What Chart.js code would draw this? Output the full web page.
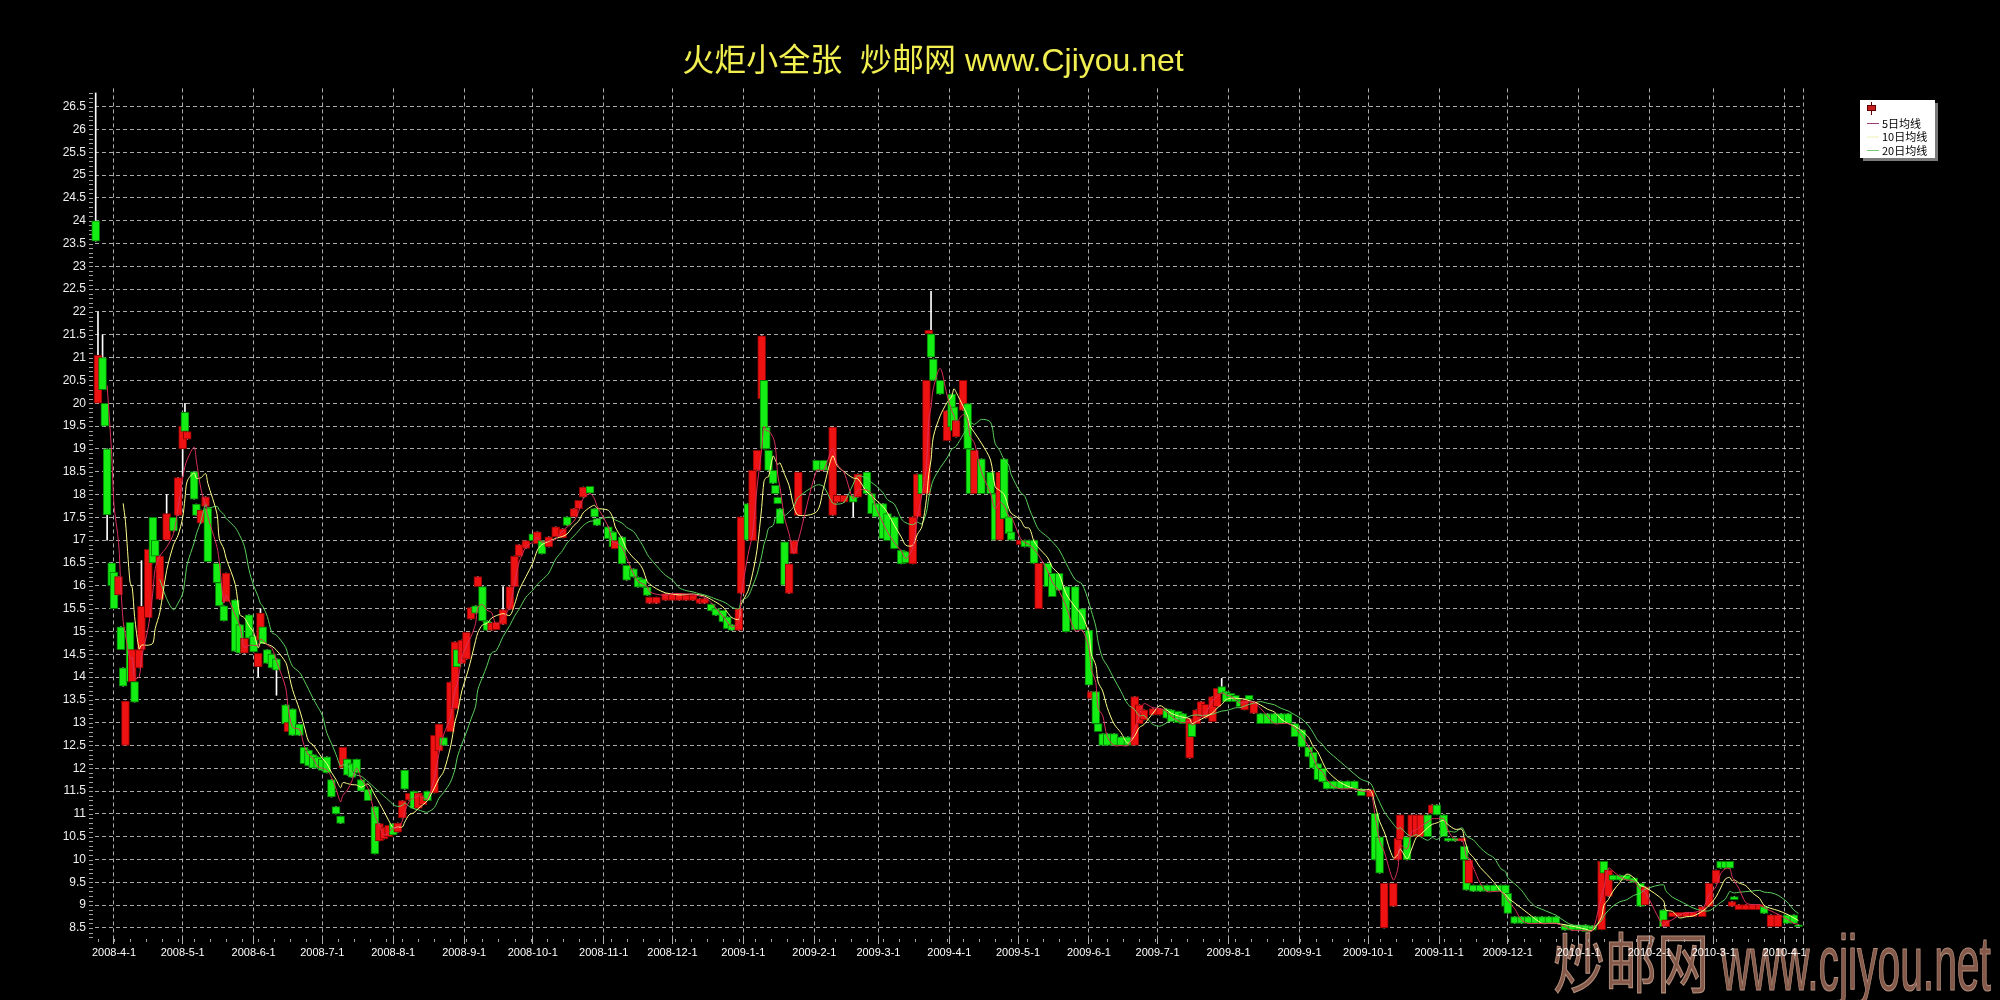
<!DOCTYPE html>
<html>
<head>
<meta charset="utf-8">
<title>火炬小全张</title>
<style>
  html, body { margin: 0; padding: 0; background: #000; }
  #wrap { width: 2000px; height: 1000px; }
</style>
<script src="https://cdn.jsdelivr.net/npm/chart.js@4.4.1/dist/chart.umd.min.js"></script>
</head>
<body>
<div id="wrap"><canvas id="myChart" width="2000" height="1000"></canvas></div>
<script>
// month labels on the time axis
const monthTicks = ['2008-4-1','2008-5-1','2008-6-1','2008-7-1','2008-8-1','2008-9-1','2008-10-1','2008-11-1','2008-12-1',
  '2009-1-1','2009-2-1','2009-3-1','2009-4-1','2009-5-1','2009-6-1','2009-7-1','2009-8-1','2009-9-1','2009-10-1','2009-11-1','2009-12-1',
  '2010-1-1','2010-2-1','2010-3-1','2010-4-1'];
const yTicks = [8.5,9,9.5,10,10.5,11,11.5,12,12.5,13,13.5,14,14.5,15,15.5,16,16.5,17,17.5,18,18.5,19,19.5,20,20.5,21,21.5,22,22.5,23,23.5,24,24.5,25,25.5,26,26.5];

// candles, one row per month
const dates = [
  '2008-3-24','2008-3-25','2008-3-27','2008-3-28','2008-3-29','2008-3-31',
  '2008-4-1','2008-4-3','2008-4-4','2008-4-5','2008-4-6','2008-4-8','2008-4-9','2008-4-10','2008-4-12','2008-4-13','2008-4-16','2008-4-18','2008-4-19','2008-4-21','2008-4-24','2008-4-27','2008-4-29',
  '2008-5-1','2008-5-2','2008-5-3','2008-5-6','2008-5-7','2008-5-9','2008-5-11','2008-5-12','2008-5-16','2008-5-17','2008-5-19','2008-5-20','2008-5-24','2008-5-26','2008-5-28','2008-5-30',
  '2008-6-1','2008-6-3','2008-6-4','2008-6-5','2008-6-7','2008-6-9','2008-6-11','2008-6-15','2008-6-16','2008-6-18','2008-6-21','2008-6-23','2008-6-25','2008-6-27','2008-6-29',
  '2008-7-1','2008-7-3','2008-7-5','2008-7-7','2008-7-9','2008-7-10','2008-7-12','2008-7-14','2008-7-16','2008-7-18','2008-7-21','2008-7-24','2008-7-26','2008-7-28','2008-7-30',
  '2008-8-1','2008-8-3','2008-8-5','2008-8-6','2008-8-8','2008-8-10','2008-8-12','2008-8-14','2008-8-16','2008-8-19','2008-8-21','2008-8-23','2008-8-26','2008-8-28','2008-8-29','2008-8-31',
  '2008-9-2','2008-9-4','2008-9-6','2008-9-7','2008-9-9','2008-9-11','2008-9-13','2008-9-15','2008-9-18','2008-9-21','2008-9-23','2008-9-25','2008-9-28',
  '2008-10-1','2008-10-3','2008-10-5','2008-10-8','2008-10-11','2008-10-14','2008-10-16','2008-10-19','2008-10-21','2008-10-23','2008-10-26','2008-10-28','2008-10-29',
  '2008-11-3','2008-11-5','2008-11-6','2008-11-9','2008-11-11','2008-11-14','2008-11-16','2008-11-18','2008-11-20','2008-11-21','2008-11-24','2008-11-28',
  '2008-12-1','2008-12-4','2008-12-7','2008-12-10','2008-12-13','2008-12-15','2008-12-18','2008-12-20','2008-12-23','2008-12-25','2008-12-27','2008-12-30','2008-12-31',
  '2009-1-3','2009-1-5','2009-1-7','2009-1-9','2009-1-10','2009-1-11','2009-1-12','2009-1-14','2009-1-15','2009-1-16','2009-1-17','2009-1-19','2009-1-21','2009-1-23','2009-1-25',
  '2009-2-2','2009-2-5','2009-2-9','2009-2-11','2009-2-14','2009-2-18','2009-2-20','2009-2-24','2009-2-26','2009-2-28',
  '2009-3-3','2009-3-5','2009-3-8','2009-3-11','2009-3-13','2009-3-16','2009-3-18','2009-3-20','2009-3-22','2009-3-23','2009-3-24','2009-3-25','2009-3-28','2009-3-31',
  '2009-4-2','2009-4-3','2009-4-4','2009-4-7','2009-4-9','2009-4-10','2009-4-12','2009-4-15','2009-4-19','2009-4-21','2009-4-23','2009-4-25','2009-4-27','2009-4-28',
  '2009-5-2','2009-5-4','2009-5-6','2009-5-8','2009-5-10','2009-5-14','2009-5-16','2009-5-19','2009-5-22','2009-5-26','2009-5-29',
  '2009-6-1','2009-6-2','2009-6-4','2009-6-5','2009-6-7','2009-6-9','2009-6-12','2009-6-15','2009-6-18','2009-6-21','2009-6-23','2009-6-25','2009-6-29',
  '2009-7-2','2009-7-5','2009-7-7','2009-7-10','2009-7-12','2009-7-15','2009-7-16','2009-7-18','2009-7-20','2009-7-22','2009-7-25','2009-7-27','2009-7-29','2009-7-31',
  '2009-8-2','2009-8-4','2009-8-6','2009-8-8','2009-8-10','2009-8-12','2009-8-15','2009-8-18','2009-8-21','2009-8-24','2009-8-27','2009-8-30',
  '2009-9-2','2009-9-5','2009-9-7','2009-9-9','2009-9-11','2009-9-13','2009-9-16','2009-9-19','2009-9-22','2009-9-25','2009-9-28',
  '2009-10-2','2009-10-4','2009-10-6','2009-10-8','2009-10-12','2009-10-14','2009-10-15','2009-10-18','2009-10-20','2009-10-22','2009-10-24','2009-10-27','2009-10-29','2009-10-31',
  '2009-11-3','2009-11-5','2009-11-8','2009-11-11','2009-11-12','2009-11-13','2009-11-14','2009-11-16','2009-11-19','2009-11-22','2009-11-25','2009-11-28','2009-11-30',
  '2009-12-1','2009-12-4','2009-12-7','2009-12-10','2009-12-13','2009-12-16','2009-12-19','2009-12-22','2009-12-26','2009-12-29',
  '2010-1-1','2010-1-4','2010-1-7','2010-1-11','2010-1-12','2010-1-14','2010-1-16','2010-1-19','2010-1-22','2010-1-25','2010-1-28','2010-1-30',
  '2010-2-7','2010-2-8','2010-2-11','2010-2-14','2010-2-17','2010-2-20','2010-2-24','2010-2-27',
  '2010-3-2','2010-3-4','2010-3-6','2010-3-8','2010-3-9','2010-3-10','2010-3-12','2010-3-15','2010-3-18','2010-3-21','2010-3-23','2010-3-26','2010-3-29',
  '2010-4-2','2010-4-5','2010-4-7'
];
const opens = [
  24.0,20.0,21.0,20.0,19.0,16.5,
  16.3,15.8,15.1,14.2,12.5,15.2,13.9,13.9,14.2,14.6,15.3,17.5,17.0,15.7,17.0,17.5,17.54,
  19.0,19.8,19.21,18.5,17.79,17.37,17.74,17.7,16.49,16.07,15.56,15.65,15.69,15.15,14.52,15.36,
  14.9,14.22,14.81,15.1,14.6,14.5,14.4,13.39,12.8,13.3,12.97,12.46,12.4,12.3,12.25,
  12.2,12.25,11.75,11.16,10.95,12.0,12.2,12.1,12.2,11.75,11.54,11.16,10.41,10.45,10.5,
  10.79,10.6,10.91,11.96,11.3,11.5,11.12,11.2,11.5,11.46,12.38,12.67,12.8,13.3,14.6,14.3,
  14.39,15.27,15.56,15.98,15.98,15.23,15.02,15.04,15.15,15.48,15.98,16.65,16.82,
  17.14,16.92,16.99,16.85,17.07,17.05,17.51,17.51,17.69,17.94,18.18,17.69,17.47,
  17.29,17.18,16.81,17.07,16.45,16.37,16.19,16.15,15.97,15.61,15.61,15.68,
  15.68,15.68,15.68,15.68,15.61,15.61,15.6,15.5,15.46,15.32,15.15,15.02,15.83,
  17.8,16.99,18.53,20.1,20.5,19.48,18.97,18.53,18.2,17.94,17.69,16.96,15.83,16.7,17.54,
  18.75,18.75,17.54,17.83,17.83,17.98,17.94,18.49,18.02,17.8,
  17.8,17.58,17.51,16.78,16.75,16.48,17.51,18.45,18.02,21.52,21.52,20.97,20.5,19.18,
  20.2,19.92,19.26,19.84,19.99,19.0,18.02,18.78,18.49,18.02,17.0,18.78,17.51,17.18,
  16.9,17.0,17.0,17.0,15.5,16.49,16.27,16.27,15.98,15.98,15.5,
  15.03,13.53,13.68,12.98,12.76,12.76,12.76,12.69,12.69,12.5,12.98,13.06,13.17,
  13.17,13.3,13.28,13.25,13.2,12.22,12.98,12.98,13.13,13.1,13.02,13.35,13.79,13.68,
  13.64,13.6,13.5,13.28,13.6,13.2,13.2,13.2,13.2,13.2,13.2,12.98,
  12.84,12.47,12.35,12.1,12.0,11.72,11.72,11.72,11.72,11.72,11.55,
  11.38,11.01,10.5,8.5,8.97,9.99,10.43,10.5,10.5,10.5,10.5,10.98,11.01,11.2,
  10.98,10.47,10.47,10.4,10.29,9.99,9.48,9.44,9.44,9.44,9.44,9.44,9.44,
  9.26,8.75,8.75,8.75,8.75,8.75,8.75,8.75,8.57,8.57,
  8.57,8.57,8.55,8.46,9.96,9.19,9.66,9.66,9.66,9.6,9.48,9.0,
  8.9,8.53,8.75,8.75,8.75,8.75,8.75,8.97,
  9.48,9.96,9.96,9.96,8.97,9.19,8.9,8.9,8.9,8.9,8.97,8.53,8.53,
  8.79,8.79,8.57
];
const closes = [
  23.55,21.05,20.3,19.5,17.55,16.0,
  15.5,16.2,14.6,13.8,13.47,13.9,14.6,13.45,14.6,15.55,16.8,16.5,16.65,16.65,17.58,17.2,18.37,
  19.5,19.38,19.38,17.9,17.54,17.66,17.95,16.53,16.07,15.56,15.23,16.28,14.56,14.52,14.85,14.85,
  14.55,14.52,15.4,14.73,14.3,14.2,14.15,12.97,13.0,12.72,12.72,12.1,12.05,12.0,12.0,
  11.95,11.9,11.37,11.0,10.79,12.46,11.85,11.8,11.9,11.5,11.29,10.12,10.79,10.7,10.75,
  10.54,10.8,11.29,11.54,11.45,11.12,11.46,11.4,11.29,12.72,12.97,12.5,13.89,14.77,14.22,14.81,
  14.98,15.52,15.4,16.2,15.23,15.02,15.19,15.2,15.48,15.98,16.65,16.9,16.99,
  16.99,17.18,16.7,17.07,17.29,17.25,17.32,17.69,17.87,18.16,18.03,17.51,17.32,
  17.03,16.85,16.99,16.48,16.12,16.19,15.97,15.97,15.79,15.75,15.75,15.83,
  15.83,15.83,15.8,15.8,15.72,15.72,15.45,15.35,15.21,15.06,15.02,15.5,17.51,
  17.0,18.53,18.97,21.48,19.0,19.0,18.53,18.24,18.02,17.8,17.36,16.01,16.48,16.99,18.49,
  18.53,18.53,19.48,17.98,17.98,17.83,18.45,18.02,17.58,17.51,
  17.03,16.99,16.81,16.48,16.5,17.51,18.45,18.02,20.5,21.6,21.01,20.5,20.2,19.84,
  19.48,19.4,19.62,20.5,19.0,18.02,18.97,18.02,18.02,17.0,18.49,17.47,17.14,17.0,
  17.0,16.85,16.85,16.49,16.49,15.98,15.76,15.9,14.99,15.03,15.03,
  13.82,13.68,12.98,12.8,12.5,12.5,12.5,12.5,12.5,13.57,13.39,13.28,13.31,
  13.31,13.1,13.02,13.0,12.98,13.09,12.69,13.28,13.46,13.4,13.57,13.75,13.64,13.46,
  13.46,13.46,13.35,13.5,13.5,13.46,12.98,12.98,12.98,12.98,12.98,12.69,
  12.47,12.25,12.0,11.75,11.7,11.55,11.55,11.55,11.55,11.55,11.4,
  11.53,9.99,9.7,9.48,9.48,10.47,10.98,9.99,10.98,10.98,10.98,10.5,11.2,10.98,
  10.5,10.4,10.4,10.47,9.99,9.33,9.99,9.3,9.3,9.3,9.3,9.3,8.97,
  8.82,8.6,8.6,8.6,8.6,8.6,8.6,8.6,8.45,8.45,
  8.45,8.42,8.45,9.96,9.7,9.77,9.55,9.55,9.55,9.5,8.97,9.4,
  8.53,8.68,8.84,8.84,8.84,8.84,8.97,9.48,
  9.77,9.81,9.81,9.81,9.08,9.12,9.01,9.01,9.01,9.01,8.82,8.79,8.79,
  8.6,8.6,8.53
];
// wicks that reach past the body
const wickHighs = [['2008-3-24',26.8],['2008-3-25',22.0],['2008-3-27',21.5],['2008-4-13',16.55],['2008-4-24',18.0],
  ['2008-5-2',20.0],['2008-6-4',15.5],['2008-9-18',15.98],['2009-3-24',22.45],['2009-7-29',13.97]];
const wickLows = [['2008-3-29',17.0],['2008-5-1',18.4],['2008-6-3',14.0],['2008-6-11',13.6],['2009-2-18',17.51]];

const RED = '#ee1212', RED_EDGE = '#8c0000';
const GREEN = '#14ee14', GREEN_EDGE = '#007a00';
const MA5_COLOR = '#d8305a', MA10_COLOR = '#ffff8c', MA20_COLOR = '#5ccf5c';

const base = Date.UTC(2008, 3, 1);
function dayOf(s) {
  const p = s.split('-').map(Number);
  return (Date.UTC(p[0], p[1] - 1, p[2]) - base) / 864e5;
}
const xs = dates.map(dayOf);
const hiMap = new Map(wickHighs), loMap = new Map(wickLows);
const up = closes.map((c, i) => c >= opens[i]);

const bodies = xs.map((x, i) => ({ x: x, y: [opens[i], closes[i]] }));
const wicks = xs.map((x, i) => ({
  x: x,
  y: [loMap.get(dates[i]) ?? Math.min(opens[i], closes[i]), hiMap.get(dates[i]) ?? Math.max(opens[i], closes[i])]
}));

// N-day average of closes, window taken in calendar days
function movingAverage(spanDays, first) {
  const out = [];
  for (let i = first; i < xs.length; i++) {
    let sum = 0, n = 0;
    for (let j = i; j >= 0 && xs[j] > xs[i] - spanDays; j--) { sum += closes[j]; n++; }
    out.push({ x: xs[i], y: sum / n });
  }
  return out;
}

const bgPlugin = {
  id: 'bgPlugin',
  beforeDraw(chart) {
    const ctx = chart.ctx;
    ctx.save();
    ctx.fillStyle = '#000';
    ctx.fillRect(0, 0, chart.width, chart.height);
    // site watermark
    ctx.fillStyle = '#84594a';
    ctx.strokeStyle = '#b08c7a';
    ctx.lineWidth = 1.2;
    ctx.save();
    ctx.translate(1553, 987);
    ctx.scale(0.8, 1);
    ctx.font = '65px "Noto Sans CJK SC"';
    ctx.fillText('炒邮网', 0, 0);
    ctx.strokeText('炒邮网', 0, 0);
    ctx.restore();
    ctx.save();
    ctx.translate(1721, 990);
    ctx.scale(0.53, 1);
    ctx.font = '77px "Liberation Sans"';
    ctx.fillText('www.cjiyou.net', 0, 0);
    ctx.strokeText('www.cjiyou.net', 0, 0);
    ctx.restore();
    ctx.restore();
  }
};

const rulerPlugin = {
  id: 'rulerPlugin',
  beforeDatasetsDraw(chart) {
    const ctx = chart.ctx, a = chart.chartArea, x = chart.scales.x, y = chart.scales.y;
    ctx.save();
    ctx.strokeStyle = '#a0a0a0';
    ctx.lineWidth = 1;
    ctx.beginPath();
    for (let k = 83; k <= 268; k++) {
      const py = Math.round(y.getPixelForValue(k / 10)) + 0.5;
      ctx.moveTo(a.left - 6, py);
      ctx.lineTo(a.left - 2, py);
    }
    for (let d = -7; d <= 737; d += 7) {
      const px = Math.round(x.getPixelForValue(d)) + 0.5;
      ctx.moveTo(px, a.bottom + 1);
      ctx.lineTo(px, a.bottom + 4);
    }
    ctx.stroke();
    ctx.restore();
  }
};

const legendPlugin = {
  id: 'legendPlugin',
  afterDraw(chart) {
    const ctx = chart.ctx;
    const bx = 1860, by = 100, bw = 75, bh = 58;
    ctx.save();
    ctx.fillStyle = '#7a7a7a';
    ctx.fillRect(bx + 3, by + 3, bw, bh);
    ctx.fillStyle = '#ffffff';
    ctx.fillRect(bx, by, bw, bh);
    // candle symbol
    ctx.strokeStyle = '#600000';
    ctx.beginPath();
    ctx.moveTo(1871.5, 102); ctx.lineTo(1871.5, 115);
    ctx.stroke();
    ctx.fillStyle = '#c81e1e';
    ctx.fillRect(1867, 105, 9, 6);
    ctx.strokeRect(1867.5, 105.5, 8, 5);
    const rows = chart.data.datasets.filter(ds => ds.type === 'line');
    ctx.font = '11px "Noto Sans CJK SC", sans-serif';
    ctx.textBaseline = 'middle';
    rows.forEach((ds, i) => {
      const ry = 123.5 + i * 13.5;
      ctx.strokeStyle = i === 0 ? '#9a3c78' : (i === 1 ? '#f0f0b4' : '#78c878');
      ctx.beginPath();
      ctx.moveTo(1867, ry); ctx.lineTo(1879, ry);
      ctx.stroke();
      ctx.fillStyle = '#000';
      ctx.fillText(ds.label, 1882, ry);
    });
    ctx.restore();
  }
};

new Chart('myChart', {
  type: 'bar',
  data: {
    datasets: [{
      type: 'line',
      label: '5日均线',
      data: movingAverage(7, 4),
      borderColor: MA5_COLOR,
      borderWidth: 1,
      pointRadius: 0,
      tension: 0.3,
      order: 0
    }, {
      type: 'line',
      label: '10日均线',
      data: movingAverage(14, 9),
      borderColor: MA10_COLOR,
      borderWidth: 1,
      pointRadius: 0,
      tension: 0.3,
      order: 0
    }, {
      type: 'line',
      label: '20日均线',
      data: movingAverage(28, 19),
      borderColor: MA20_COLOR,
      borderWidth: 1,
      pointRadius: 0,
      tension: 0.3,
      order: 0
    }, {
      label: 'body',
      data: bodies,
      backgroundColor: up.map(u => u ? RED : GREEN),
      borderColor: up.map(u => u ? RED_EDGE : GREEN_EDGE),
      borderWidth: 1,
      borderSkipped: false,
      barThickness: 8,
      grouped: false,
      clip: false,
      order: 1
    }, {
      label: 'wick',
      data: wicks,
      backgroundColor: '#ffffff',
      borderWidth: 0,
      barThickness: 1,
      grouped: false,
      clip: false,
      order: 2
    }]
  },
  options: {
    responsive: false,
    animation: false,
    layout: { padding: { left: 63, right: 197, top: 0, bottom: 0 } },
    plugins: {
      legend: { display: false },
      tooltip: { enabled: false },
      title: {
        display: true,
        text: '火炬小全张  炒邮网 www.Cjiyou.net',
        color: '#f2f050',
        font: { size: 32, family: '"Liberation Sans", "Noto Sans CJK SC", sans-serif', weight: 'normal', lineHeight: 1.2 },
        padding: { top: 43, bottom: 7 }
      }
    },
    scales: {
      x: {
        type: 'linear',
        min: -8.3,
        max: 738,
        offset: false,
        afterBuildTicks: s => { s.ticks = monthTicks.map(t => ({ value: dayOf(t) })).concat([{ value: 738 }]); },
        afterFit: s => { s.height = 62; },
        ticks: {
          autoSkip: false,
          maxRotation: 0,
          padding: 2,
          color: '#ffffff',
          font: { size: 11, family: '"Liberation Sans", Arial, sans-serif' },
          callback: (v, i) => monthTicks[i] || ''
        },
        grid: {
          offset: false,
          color: 'rgba(200,200,200,0.85)',
          lineWidth: 1,
          drawTicks: true,
          tickLength: 6,
          tickColor: '#b0b0b0',
          tickBorderDash: []
        },
        border: { display: false, dash: [4, 3] }
      },
      y: {
        type: 'linear',
        min: 8.28,
        max: 26.9,
        afterBuildTicks: s => { s.ticks = yTicks.map(v => ({ value: v })); },
        afterFit: s => { s.width = 32; },
        ticks: {
          padding: 9,
          color: '#f0f0f0',
          font: { size: 12, family: '"Liberation Sans", Arial, sans-serif' },
          callback: v => String(v)
        },
        grid: {
          color: 'rgba(200,200,200,0.85)',
          lineWidth: 1,
          drawTicks: false
        },
        border: { display: false, dash: [4, 3] }
      }
    }
  },
  plugins: [bgPlugin, rulerPlugin, legendPlugin]
});
</script>
</body>
</html>
